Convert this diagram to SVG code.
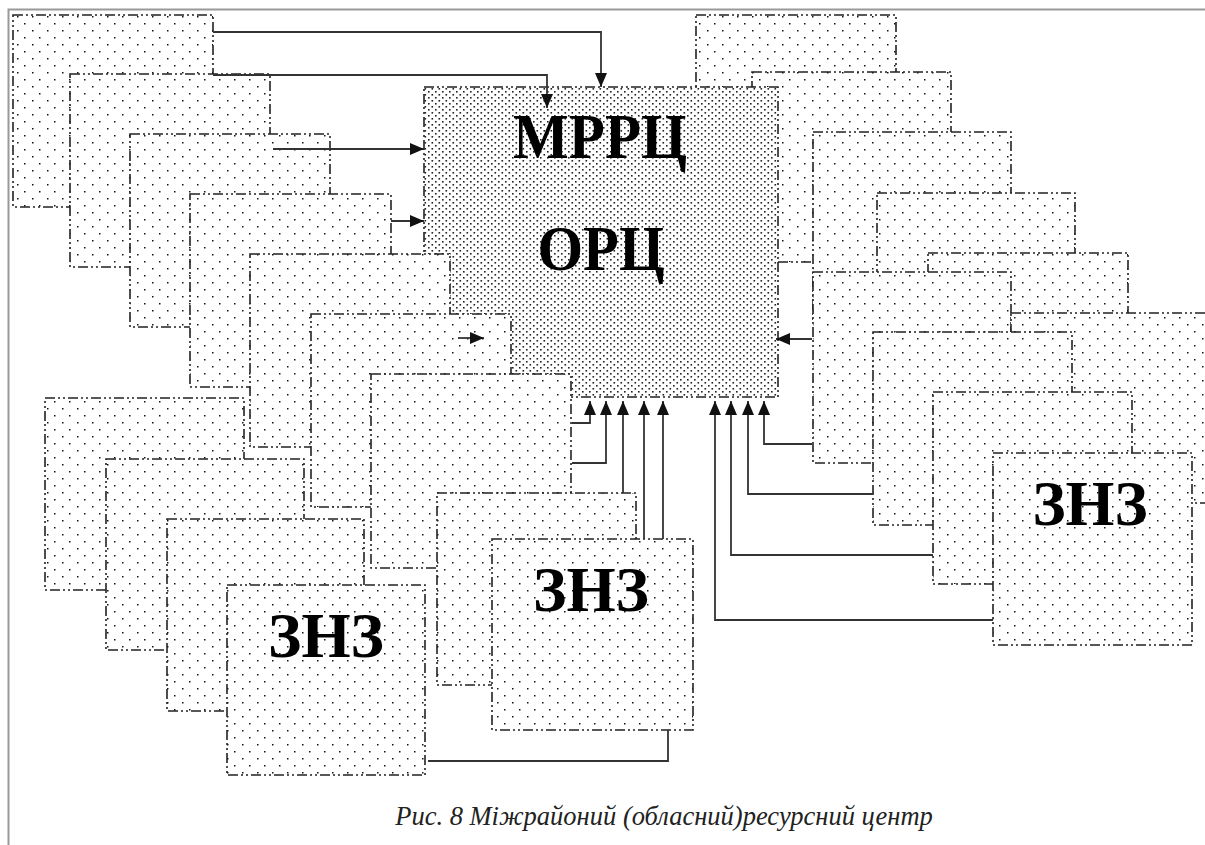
<svg xmlns="http://www.w3.org/2000/svg" width="1205" height="845" viewBox="0 0 1205 845">
<style>
.box{fill:url(#dots);stroke:#222;stroke-width:1.6;stroke-dasharray:10 3 2 3 2 3}
.hub{fill:url(#dense);stroke:#222;stroke-width:1.6;stroke-dasharray:10 3 2 3 2 3}
.lbl{font-family:"Liberation Serif",serif;font-weight:bold;font-size:64px;fill:#000;text-anchor:middle}
.cap{font-family:"Liberation Serif","DejaVu Serif",serif;font-style:italic;font-size:26.5px;fill:#222;text-anchor:middle}
.con{fill:none;stroke:#333;stroke-width:1.8}
.arr{marker-end:url(#ah)}
.frame{stroke:#999;stroke-width:2;fill:none}
</style>
<defs>
<pattern id="dots" patternUnits="userSpaceOnUse" width="15" height="14">
<rect width="15" height="14" fill="#fff"/>
<rect x="2" y="2" width="1.5" height="1.5" fill="#111"/>
<rect x="9" y="9" width="1.5" height="1.5" fill="#111"/>
</pattern>
<pattern id="dense" patternUnits="userSpaceOnUse" width="7" height="6">
<rect width="7" height="6" fill="#fff"/>
<rect x="1" y="1" width="1.6" height="1.6" fill="#222"/>
<rect x="4.5" y="4" width="1.6" height="1.6" fill="#222"/>
</pattern>
<marker id="ah" markerUnits="userSpaceOnUse" markerWidth="14" markerHeight="12" refX="14" refY="6" orient="auto">
<path d="M0,0 L14,6 L0,12 z" fill="#111"/>
</marker>
</defs>
<rect width="1205" height="845" fill="#fff"/>
<path class="frame" d="M8.5,845 V9.5 H1205"/>
<g id="R1"><rect class="box" x="696" y="15" width="200" height="190"/></g>
<g id="R2"><rect class="box" x="752" y="72" width="199" height="190"/></g>
<g id="L1"><rect class="box" x="13" y="15" width="200" height="192"/></g>
<g id="L2"><rect class="box" x="70" y="74" width="200" height="193"/></g>
<g id="L3"><rect class="box" x="130" y="134" width="200" height="193"/></g>
<g id="L4"><rect class="box" x="190" y="194" width="201" height="193"/></g>
<g id="hub"><rect class="hub" x="424" y="87" width="354" height="310"/>
<text class="lbl" x="600" y="158" textLength="174" lengthAdjust="spacingAndGlyphs">МРРЦ</text>
<text class="lbl" x="601" y="270" textLength="127" lengthAdjust="spacingAndGlyphs">ОРЦ</text></g>
<g id="L5"><rect class="box" x="250" y="254" width="200" height="193"/></g>
<g id="L6"><rect class="box" x="311" y="314" width="200" height="193"/></g>
<g id="L7"><rect class="box" x="371" y="374" width="200" height="194"/></g>
<g id="B1"><rect class="box" x="45" y="398" width="199" height="192"/></g>
<g id="B2"><rect class="box" x="106" y="459" width="198" height="191"/></g>
<g id="B3"><rect class="box" x="167" y="519" width="197" height="192"/></g>
<g id="B4"><rect class="box" x="227" y="585" width="198" height="190"/>
<text class="lbl" x="326" y="657" textLength="116" lengthAdjust="spacingAndGlyphs">ЗНЗ</text></g>
<g id="M1"><rect class="box" x="437" y="493" width="199" height="192"/></g>
<g id="M2"><rect class="box" x="492" y="539" width="201" height="191"/>
<text class="lbl" x="591" y="611" textLength="116" lengthAdjust="spacingAndGlyphs">ЗНЗ</text></g>
<g id="R3"><rect class="box" x="813" y="132" width="198" height="190"/></g>
<g id="R4"><rect class="box" x="877" y="193" width="198" height="190"/></g>
<g id="R5"><rect class="box" x="928" y="253" width="200" height="190"/></g>
<g id="R6"><rect class="box" x="813" y="272" width="198" height="191"/></g>
<g id="R7"><rect class="box" x="1011" y="313" width="200" height="190"/></g>
<g id="R8"><rect class="box" x="873" y="332" width="199" height="193"/></g>
<g id="R9"><rect class="box" x="933" y="392" width="199" height="192"/></g>
<g id="R10"><rect class="box" x="993" y="453" width="199" height="192"/>
<text class="lbl" x="1090" y="525" textLength="115" lengthAdjust="spacingAndGlyphs">ЗНЗ</text></g>
<g id="connectors">
<path class="con arr" d="M213,32 H601 V87"/>
<path class="con arr" d="M213,75 H547 V108"/>
<path class="con arr" d="M273,149 H424"/>
<path class="con arr" d="M391,221 H424"/>
<path class="con arr" d="M458,338 H484"/>
<path class="con arr" d="M812,339 H776"/>
<path class="con arr" d="M572,423 H590 V401"/>
<path class="con arr" d="M572,463 H606 V401"/>
<path class="con arr" d="M623,493 V401"/>
<path class="con arr" d="M644,539 V401"/>
<path class="con arr" d="M663,539 V401"/>
<path class="con arr" d="M993,620 H715 V401"/>
<path class="con arr" d="M933,555 H731 V401"/>
<path class="con arr" d="M873,494 H748 V401"/>
<path class="con arr" d="M812,444 H764 V401"/>
<path class="con" d="M428,761 H668 V730"/>
</g>
<text class="cap" x="664" y="825">Рис. 8 Міжрайоний (обласний)ресурсний центр</text>
</svg>
